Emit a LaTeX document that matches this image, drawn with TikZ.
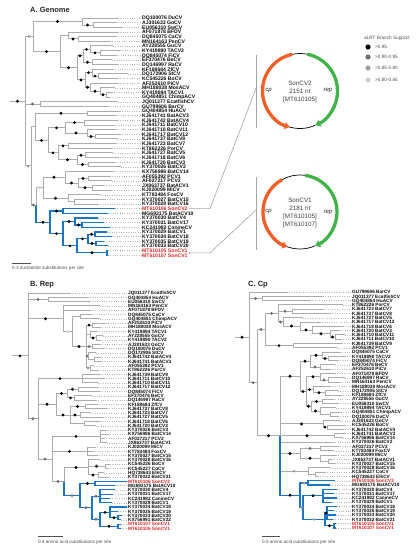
\documentclass[tikz,border=0pt]{standalone}
\usepackage{fontspec}
\setmainfont{Liberation Sans}
\usetikzlibrary{calc,arrows.meta}
\pgfdeclarelayer{fg}
\pgfsetlayers{main,fg}
\definecolor{brgray}{RGB}{172,172,172}
\definecolor{brblue}{RGB}{28,117,196}
\definecolor{sonred}{RGB}{226,38,38}
\definecolor{labblack}{RGB}{10,10,10}
\definecolor{sc1}{RGB}{0,0,0}
\definecolor{sc2}{RGB}{112,112,112}
\definecolor{sc3}{RGB}{160,160,160}
\definecolor{sc4}{RGB}{208,208,208}
\definecolor{cporange}{RGB}{242,96,40}
\definecolor{repgreen}{RGB}{64,180,74}
\definecolor{leadgray}{RGB}{185,185,185}
\definecolor{txtgray}{RGB}{80,80,80}
\definecolor{bargray}{RGB}{165,165,165}
\tikzset{
  gbr/.style={draw=brgray,line width=0.9pt},
  bbr/.style={draw=brblue,line width=1.2pt},
  leader/.style={draw=leadgray,dotted,line width=0.35pt},
  paneltitle/.style={anchor=west,inner sep=0pt,font=\bfseries\fontsize{7.5}{8}\selectfont,text=black!85},
  scaletext/.style={anchor=west,inner sep=0pt,font=\fontsize{4.6}{5}\selectfont,text=txtgray},
  scalebar/.style={draw=txtgray,line width=0.5pt},
  maptext/.style={inner sep=0pt,font=\fontsize{6.3}{7}\selectfont,text=black!75},
  genelab/.style={inner sep=0pt,font=\itshape\fontsize{6}{7}\selectfont,text=black!85},
  cparc/.style={draw=cporange,line width=3.3pt,-{Triangle[length=5pt,width=7pt]}},
  reparc/.style={draw=repgreen,line width=3.3pt,-{Triangle[length=5pt,width=7pt]}},
  thinarc/.style={draw=black,line width=0.7pt},
  mapbar/.style={draw=bargray,line width=1pt},
  conn/.style={draw=bargray,line width=0.6pt},
  legtext/.style={anchor=west,inner sep=0pt,font=\fontsize{4.7}{5}\selectfont,text=txtgray},
}
\def\curbr{gbr}
\newcommand\tip[5][]{%
  \coordinate (#2) at (#4,{\yo+#3*\dy});%
  \expandafter\xdef\csname ncol-#2\endcsname{\curbr}%
  \expandafter\xdef\csname nsup-#2\endcsname{0}%
  \node[lab,#1] (#2L) at (\lx,{\yo+#3*\dy}) {#5};%
  \draw[leader] (#2) -- ([xshift=-0.8pt]#2L.west);}
\newcommand\edge[2]{%
  \edef\tmpc{\csname ncol-#2\endcsname}%
  \edef\tmps{\csname nsup-#2\endcsname}%
  \edef\mynext{\noexpand\draw[\tmpc] (#1) |- (#2);}\mynext
  \ifnum\tmps>0
    \edef\mynext{\noexpand\begin{pgfonlayer}{fg}\noexpand\fill[sc\tmps] ($(#1 |- #2)!0.5!(#2)$) circle[radius=1.6];\noexpand\end{pgfonlayer}}\mynext
  \fi}
\newcommand\nd[4]{%
  \foreach \chn [count=\ncount] in {#4}{\ifnum\ncount=1 \xdef\firstc{\chn}\fi\xdef\lastc{\chn}}%
  \path let \p1=($(\firstc)!0.5!(\lastc)$) in (#2pt,\y1) coordinate (#1);%
  \expandafter\xdef\csname ncol-#1\endcsname{\curbr}%
  \expandafter\xdef\csname nsup-#1\endcsname{#3}%
  \foreach \chn in {#4}{\edge{#1}{\chn}}}
\newcommand\rootstub[3]{% name, root node, length
  \coordinate (#1) at ($(#2)+(-#3,0)$);
  \draw[gbr] (#1) -- (#2);
  \begin{pgfonlayer}{fg}\fill[sc1] ($(#1)!0.5!(#2)$) circle[radius=1.6];\end{pgfonlayer}}
\begin{document}
\begin{tikzpicture}[x=1pt,y=-1pt]
\useasboundingbox (0,0) rectangle (418,550);
\fill[white] (0,0) rectangle (418,550);

% ---------------- titles
\node[paneltitle] (tA) at (30,9.5) {A. Genome};
\node[paneltitle] (tB) at (30,284.5) {B. Rep};
\node[paneltitle] (tC) at (248,284.5) {C. Cp};

% ================= TREE A
\def\yo{18}\def\dy{4.65}\def\lx{142}
\tikzset{lab/.style={inner sep=0pt,anchor=west,text height=3.8pt,text depth=0pt,font=\bfseries\fontsize{5.1}{5.1}\selectfont,text=labblack}}
\def\curbr{gbr}
\foreach \ii/\tx/\lbl in {0/118/DQ100076 DuCV,1/116/AJ301633 GoCV,2/122/EU056310 SwCV,3/118/AF071878 BFDV,4/116/DQ845075 CaCV,5/110/MN164163 PenCV,6/113/AY228555 GuCV,7/120/KY419890 TACV2,8/116/DQ845074 FiCV,9/112/EF370476 BeCV,10/118/DQ146997 RaCV,11/113/KF188684 ZfCV,12/128/DQ172906 StCV,13/118/KC545226 BoCV,14/118/AF252610 PiCV,15/115/MH188038 MosACV,16/112/KY419894 TACV1,17/110/GQ404851 ChimpACV,18/118/JQ011377 EcatfishCV,19/108/GU799606 BarCV,20/120/GQ404854 HuACV,21/116/KJ641741 BatACV3,22/118/KJ641742 BatACV4,23/114/KJ641711 BatCV10,24/116/KJ641710 BatCV11,25/120/KJ641717 BatCV12,26/118/KJ641737 BatCV8,27/116/KJ641723 BatCV7,28/112/KT862226 PorCV,29/113/KJ641727 BatCV5,30/118/KJ641718 BatCV6,31/115/KJ641720 BatCV3,32/121/KY370026 BatCV2,33/113/KX756986 BatCV14,34/110/AF055392 PCV1,35/112/AF027217 PCV2,36/104/JX863737 BatACV1,37/112/KJ020099 MiCV,38/100/KT783484 FoxCV,39/105/KY370027 BatCV15,40/98/KY370028 BatCV16}{\tip{at\ii}{\ii}{\tx}{\lbl}}
\def\curbr{bbr}
\tip[text=sonred]{at41}{41}{115}{MT610106 SonCV2}
\foreach \ii/\tx/\lbl in {42/108/MG693175 BatACV10,43/98/KY370030 BatCV4,44/104/KY370031 BatCV17,45/110/KC241982 CanineCV,46/107/KY370029 BatCV1,47/112/KY370034 BatCV18,48/104/KY370035 BatCV19,49/108/KY370033 BatCV20}{\tip{at\ii}{\ii}{\tx}{\lbl}}
\tip[text=sonred]{at50}{50}{108}{MT610105 SonCV1}
\tip[text=sonred]{at51}{51}{108}{MT610107 SonCV1}
\def\curbr{gbr}
\nd{aA2}{93}{1}{at1,at2}
\nd{aA1}{82}{1}{at0,aA2}
\nd{aB4}{78}{1}{at4,at5}
\nd{aB2}{68}{0}{at3,aB4}
\nd{aC5}{100}{1}{at7,at8}
\nd{aC3}{90}{1}{at6,aC5}
\nd{aC4}{92}{1}{at9,at10}
\nd{aC1}{83}{1}{aC3,aC4}
\nd{aC11}{98}{1}{at12,at13}
\nd{aC6}{92}{1}{at11,aC11}
\nd{aC13}{106}{1}{at16,at17}
\nd{aC12}{100}{1}{at15,aC13}
\nd{aC7}{90}{1}{at14,aC12}
\nd{aC2}{85}{1}{aC6,aC7}
\nd{aB3}{77}{1}{aC1,aC2}
\nd{aB1}{60}{1}{aB2,aB3}
\nd{aTOP}{33}{3}{aA1,aB1}
\nd{aMID}{40}{2}{at18,at19}
\nd{aY1}{87}{1}{at20,at21}
\nd{aY5}{84}{1}{at22,at23}
\nd{aY9}{95}{1}{at25,at26}
\nd{aY6}{87}{1}{at24,aY9}
\nd{aY3}{65}{1}{aY5,aY6}
\nd{aY7}{68}{1}{at27,at28}
\nd{aY12}{85}{1}{at29,at30}
\nd{aY10}{88}{1}{at31,at32}
\nd{aY8}{77}{1}{aY12,aY10}
\nd{aY4}{58}{1}{aY7,aY8}
\nd{aY2}{48}{1}{aY3,aY4}
\nd{aY}{35}{0}{aY1,aY2}
\nd{aZg5}{88}{1}{at34,at35}
\nd{aZg6}{92}{1}{at36,at37}
\nd{aZg3}{78}{1}{aZg5,aZg6}
\nd{aZg1}{65}{1}{at33,aZg3}
\nd{aZg8}{74}{0}{at39,at40}
\nd{aZg2}{68}{1}{at38,aZg8}
\nd{aZg}{43}{4}{aZg1,aZg2}
\def\curbr{bbr}
\nd{aZb1}{63}{1}{at41,at42}
\nd{aZb7}{82}{1}{at44,at45}
\nd{aZb3}{75}{1}{at43,aZb7}
\nd{aZb8}{95}{1}{at46,at47}
\nd{aZb10}{96}{1}{at48,at49}
\nd{aZb5}{88}{1}{aZb8,aZb10}
\nd{aZb6}{107}{1}{at50,at51}
\nd{aZb4}{77}{1}{aZb5,aZb6}
\nd{aZb2}{63}{1}{aZb3,aZb4}
\nd{aZb}{50}{1}{aZb1,aZb2}
\def\curbr{gbr}
\nd{aZ}{36}{2}{aZg,aZb}
\nd{aX}{31}{3}{aY,aZ}
\nd{aR}{25}{0}{aTOP,aMID,aX}
\rootstub{aRs}{aR}{15}
% scale A
\coordinate (sA1) at (12,263.5); \coordinate (sA2) at (31,263.5);
\draw[scalebar] (sA1) -- (sA2);
\node[scaletext] (sAt) at (12,268.5) {0.3 nucleotide substitutions per site};

% ================= TREE B
\def\yo{293}\def\dy{4.28}\def\lx{128}
\tikzset{lab/.style={inner sep=0pt,anchor=west,text height=3.45pt,text depth=0pt,font=\bfseries\fontsize{4.7}{4.7}\selectfont,text=labblack}}
\def\curbr{gbr}
\foreach \ii/\tx/\lbl in {0/70/JQ011377 EcatfishCV,1/88/GQ404854 HuACV,2/90/EU056310 SwCV,3/100/MN164163 PenCV,4/90/AF071878 BFDV,5/92/DQ845075 CaCV,6/100/GQ404851 ChimpACV,7/106/AF252610 PiCV,8/100/MH188038 MosACV,9/97/KY419894 TACV1,10/103/AY228555 GuCV,11/100/KY419890 TACV2,12/100/AJ301633 GoCV,13/104/DQ100076 DuCV,14/96/DQ172906 StCV,15/100/KJ641742 BatACV4,16/102/KJ641741 BatACV3,17/94/AF055392 PCV1,18/98/KT862226 PorCV,19/100/KJ641739 BatCV9,20/104/KJ641711 BatCV10,21/98/KJ641710 BatCV11,22/98/KJ641717 BatCV12,23/100/DQ845074 FiCV,24/92/EF370476 BeCV,25/96/DQ146997 RaCV,26/97/KF188684 ZfCV,27/107/KJ641737 BatCV8,28/90/KJ641723 BatCV7,29/103/KJ641727 BatCV5,30/100/KJ641718 BatCV6,31/96/KJ641720 BatCV3,32/106/KY370026 BatCV2,33/108/KX756986 BatCV14,34/104/AF027217 PCV2,35/107/JX863737 BatACV1,36/95/KJ020099 MiCV,37/93/KT783484 FoxCV,38/97/KY370027 BatCV15,39/100/KY370028 BatCV16,40/110/KC545226 BoCV,41/108/KC545227 CoCV,42/104/HQ738643 ElkCV,43/108/KY370032 BatCV21}{\tip{bt\ii}{\ii}{\tx}{\lbl}}
\def\curbr{bbr}
\tip[text=sonred]{bt44}{44}{127}{MT610106 SonCV2}
\foreach \ii/\tx/\lbl in {45/115/MG693175 BatACV10,46/115/KY370030 BatCV4,47/113/KY370031 BatCV17,48/110/KC241982 CanineCV,49/112/KY370029 BatCV1,50/127/KY370034 BatCV18,51/118/KY370035 BatCV19,52/122/KY370033 BatCV20,53/121/KX756991 BatCV22}{\tip{bt\ii}{\ii}{\tx}{\lbl}}
\tip[text=sonred]{bt54}{54}{121}{MT610107 SonCV1}
\tip[text=sonred]{bt55}{55}{121}{MT610105 SonCV1}
\def\curbr{gbr}
\nd{bBg}{48}{2}{bt1,bt2}
\nd{bBm5}{80}{0}{bt5,bt6}
\nd{bBm6}{92}{1}{bt7,bt8}
\nd{bBm10}{96}{1}{bt10,bt11}
\nd{bBm9}{90}{0}{bt9,bBm10}
\nd{bBm7}{92}{2}{bt12,bt13}
\nd{bBm11}{94}{0}{bt15,bt16}
\nd{bBm8}{88}{2}{bt14,bBm11}
\nd{bBm12}{90}{3}{bt17,bt18}
\nd{bBm4}{86}{1}{bBm6,bBm9,bBm7,bBm8,bBm12}
\nd{bBm2}{72}{4}{bBm5,bBm4}
\nd{bBm}{63}{1}{bt3,bt4,bBm2}
\nd{bP1}{82}{1}{bt19,bt20,bt21}
\nd{bP2c}{78}{1}{bt22,bt23}
\nd{bP2d}{74}{1}{bt24,bt25}
\nd{bP2a}{67}{1}{bP2c,bP2d}
\nd{bP2e}{85}{1}{bt26,bt27}
\nd{bP2f}{80}{1}{bt28,bt29}
\nd{bP2g}{84}{0}{bt30,bt31}
\nd{bP2b}{70}{1}{bP2e,bP2f,bP2g}
\nd{bP2}{56}{1}{bP2a,bP2b}
\nd{bQ1}{100}{1}{bt32,bt33,bt34,bt35}
\nd{bQ2}{87}{1}{bt36,bt37,bt38}
\nd{bQ3c}{105}{1}{bt40,bt41}
\nd{bQ3d}{98}{1}{bt42,bt43}
\nd{bQ3a}{88}{1}{bt39,bQ3c,bQ3d}
\def\curbr{bbr}
\nd{bQb1}{95}{1}{bt44,bt45}
\nd{bQb3}{100}{2}{bt46,bt47,bt48,bt49}
\nd{bQb7}{118}{1}{bt52,bt53}
\nd{bQb5}{110}{1}{bt50,bt51,bQb7}
\nd{bQb6}{118}{1}{bt54,bt55}
\nd{bQb4}{100}{2}{bQb5,bQb6}
\nd{bQb2}{92}{2}{bQb3,bQb4}
\nd{bQb}{80}{2}{bQb1,bQb2}
\def\curbr{gbr}
\nd{bQ3}{64}{2}{bQ3a,bQb}
\nd{bQ}{52}{2}{bQ1,bQ2,bQ3}
\nd{bP}{38}{2}{bP1,bP2,bQ}
\nd{bR}{28}{0}{bt0,bBg,bBm,bP}
\rootstub{bRs}{bR}{16}
\coordinate (sB1) at (38,536.5); \coordinate (sB2) at (63,536.5);
\draw[scalebar] (sB1) -- (sB2);
\node[scaletext] (sBt) at (38,542) {0.4 amino acid substitutions per site};

% ================= TREE C
\def\yo{292}\def\dy{4.29}\def\lx{352}
\def\curbr{gbr}
\foreach \ii/\tx/\lbl in {0/287/GU799606 BarCV,1/323/JQ011377 EcatfishCV,2/310/GQ404854 HuACV,3/343/KT862226 PorCV,4/323/KJ641723 BatCV7,5/330/KJ641737 BatCV8,6/303/KJ641727 BatCV5,7/320/KJ641717 BatCV12,8/343/KJ641718 BatCV6,9/340/KJ641720 BatCV3,10/345/KJ641710 BatCV11,11/341/KJ641711 BatCV10,12/342/KJ641739 BatCV9,13/337/AF055392 PCV1,14/340/DQ845075 CaCV,15/345/KY419890 TACV2,16/338/DQ845074 FiCV,17/335/EF370476 BeCV,18/330/AF252610 PiCV,19/335/AF071878 BFDV,20/345/DQ146997 RaCV,21/340/MN164163 PenCV,22/330/MH188038 MosACV,23/338/DQ172906 StCV,24/341/KF188684 ZfCV,25/333/AY228555 GuCV,26/338/EU056310 SwCV,27/336/KY419894 TACV1,28/341/GQ404851 ChimpACV,29/338/DQ100076 DuCV,30/340/AJ301633 GoCV,31/345/KC545226 BoCV,32/343/KJ641742 BatACV4,33/345/KJ641741 BatACV3,34/343/KX756986 BatCV14,35/333/KY370026 BatCV2,36/338/AF027217 PCV2,37/334/KT783484 FoxCV,38/336/KJ020099 MiCV,39/332/JX863737 BatACV1,40/335/KY370027 BatCV15,41/330/KY370028 BatCV16,42/325/KC545227 CoCV,43/318/HQ738643 ElkCV}{\tip{ct\ii}{\ii}{\tx}{\lbl}}
\def\curbr{bbr}
\tip[text=sonred]{ct44}{44}{335}{MT610106 SonCV2}
\foreach \ii/\tx/\lbl in {45/330/MG693175 BatACV10,46/337/KY370030 BatCV4,47/334/KY370031 BatCV17,48/337/KC241982 CanineCV,49/332/KY370029 BatCV1,50/337/KY370034 BatCV18,51/334/KY370035 BatCV19,52/336/KY370033 BatCV20,53/333/KY370032 BatCV21}{\tip{ct\ii}{\ii}{\tx}{\lbl}}
\tip[text=sonred]{ct54}{54}{336}{MT610105 SonCV1}
\tip[text=sonred]{ct55}{55}{336}{MT610107 SonCV1}
\def\curbr{gbr}
\nd{cCg}{262}{2}{ct1,ct2}
\nd{cU3}{292}{2}{ct4,ct5}
\nd{cU7}{335}{1}{ct10,ct11}
\nd{cU6}{330}{1}{ct9,cU7}
\nd{cU8}{312}{1}{ct8,cU6}
\nd{cU5}{300}{1}{ct7,cU8}
\nd{cU4}{283}{2}{ct6,cU5}
\nd{cU1}{278}{2}{ct3,cU3,cU4}
\nd{cU2}{293}{1}{ct12,ct13}
\nd{cU}{265}{2}{cU1,cU2}
\nd{cL1d}{328}{1}{ct15,ct16}
\nd{cL1c}{322}{1}{ct14,cL1d}
\nd{cL1e}{320}{2}{ct17,ct18}
\nd{cL1a}{310}{1}{cL1c,cL1e}
\nd{cL1g}{328}{2}{ct20,ct21}
\nd{cL1f}{320}{1}{ct19,cL1g}
\nd{cL1i}{325}{1}{ct23,ct24}
\nd{cL1h}{313}{1}{ct22,cL1i}
\nd{cL1k}{322}{1}{ct25,ct26}
\nd{cL1m}{330}{0}{ct28,ct29}
\nd{cL1l}{320}{1}{ct27,cL1m}
\nd{cL1j}{311}{1}{cL1k,cL1l}
\nd{cL1b}{306}{1}{cL1f,cL1h,cL1j}
\nd{cL1}{300}{1}{cL1a,cL1b}
\nd{cL2a}{327}{1}{ct31,ct32}
\nd{cL2}{323}{1}{ct30,cL2a}
\nd{cL3}{334}{1}{ct33,ct34}
\nd{cL5a}{320}{2}{ct36,ct37}
\nd{cL5c}{328}{0}{ct39,ct40}
\nd{cL5b}{320}{1}{ct38,cL5c}
\nd{cL5}{300}{1}{cL5a,cL5b}
\nd{cL6a}{315}{0}{ct42,ct43}
\nd{cL6}{308}{3}{ct41,cL6a}
\def\curbr{bbr}
\nd{cB1}{308}{3}{ct44,ct45}
\nd{cB3}{323}{1}{ct46,ct47,ct48,ct49}
\nd{cB5}{327}{1}{ct50,ct51,ct52,ct53}
\nd{cB6}{334}{1}{ct54,ct55}
\nd{cB4}{325}{3}{cB5,cB6}
\nd{cB2}{303}{3}{cB3,cB4}
\nd{cL7}{300}{1}{cB1,cB2}
\def\curbr{gbr}
\nd{cL}{280}{1}{cL1,cL2,cL3,ct35,cL5,cL6,cL7}
\nd{cBIG}{257}{2}{cU,cL}
\nd{cR}{249}{0}{ct0,cCg,cBIG}
\rootstub{cRs}{cR}{14}
\coordinate (sC1) at (262,536.5); \coordinate (sC2) at (280,536.5);
\draw[scalebar] (sC1) -- (sC2);
\node[scaletext] (sCt) at (262,542) {0.5 amino acid substitutions per site};

% ================= genome maps
\begin{scope}[shift={(300,91)},yscale=-1]
  \draw[thinarc] (79:37.5) arc[start angle=79,end angle=102,radius=37.5];
  \draw[thinarc] (250:37.5) arc[start angle=250,end angle=294,radius=37.5];
  \draw[cparc] (102:37.5) arc[start angle=102,end angle=254,radius=37.5];
  \draw[reparc] (79:37.5) arc[start angle=79,end angle=-66,radius=37.5];
\end{scope}
\node[maptext] (m1a) at (300,83) {SonCV2};
\node[maptext] (m1b) at (300,91.3) {2151 nt};
\node[maptext] (m1c) at (300,99.6) {[MT610105]};
\node[genelab] (m1cp) at (268.5,91) {cp};
\node[genelab] (m1rep) at (328,90.5) {rep};

\begin{scope}[shift={(300,212)},yscale=-1]
  \draw[thinarc] (82:37) arc[start angle=82,end angle=119,radius=37];
  \draw[thinarc] (246:37) arc[start angle=246,end angle=294,radius=37];
  \draw[cparc] (119:37) arc[start angle=119,end angle=250,radius=37];
  \draw[reparc] (82:37) arc[start angle=82,end angle=-66,radius=37];
\end{scope}
\node[maptext] (m2a) at (300,200) {SonCV1};
\node[maptext] (m2b) at (300,208.4) {2181 nt};
\node[maptext] (m2c) at (300,216.8) {[MT610105]};
\node[maptext] (m2d) at (300,225.2) {[MT610107]};
\node[genelab] (m2cp) at (268.5,212) {cp};
\node[genelab] (m2rep) at (328,213) {rep};

% bars and connectors
\coordinate (bar1t) at (256,55); \coordinate (bar1b) at (256,128);
\coordinate (bar2t) at (256,177); \coordinate (bar2b) at (256,250);
\draw[mapbar] (bar1t) -- (bar1b);
\draw[mapbar] (bar2t) -- (bar2b);
\coordinate (bar1m) at (256,88.5);
\coordinate (bar2m) at (256,210);
\coordinate (kx) at (210,0);
\coordinate (cs2) at ([xshift=1pt]at41L.east);
\draw[conn] (cs2) -- (cs2 -| kx) -- (bar1m);
\coordinate (bk1) at ([xshift=2pt]at50L.east);
\coordinate (bk2) at ([xshift=2pt]at51L.east);
\draw[conn] ([yshift=-1.6pt]bk1) -- ([yshift=1.6pt]bk2);
\coordinate (bkm) at ($(bk1)!0.5!(bk2)$);
\draw[conn] (bkm) -- (bkm -| kx) -- (bar2m);

% legend
\node[legtext] (legT) at (364,38) {aLRT Branch Support};
\coordinate (lg1) at (368,47); \coordinate (lg2) at (368,57);
\coordinate (lg3) at (368,68); \coordinate (lg4) at (368,80);
\fill[sc1] (lg1) circle[radius=2.6];
\fill[sc2] (lg2) circle[radius=2.6];
\fill[sc3] (lg3) circle[radius=2.6];
\fill[sc4] (lg4) circle[radius=2.6];
\node[legtext] (lgt1) at (375,47) {>0.95};
\node[legtext] (lgt2) at (375,57) {>0.90-0.95};
\node[legtext] (lgt3) at (375,68) {>0.85-0.90};
\node[legtext] (lgt4) at (375,80) {>0.80-0.85};
\end{tikzpicture}
\end{document}
